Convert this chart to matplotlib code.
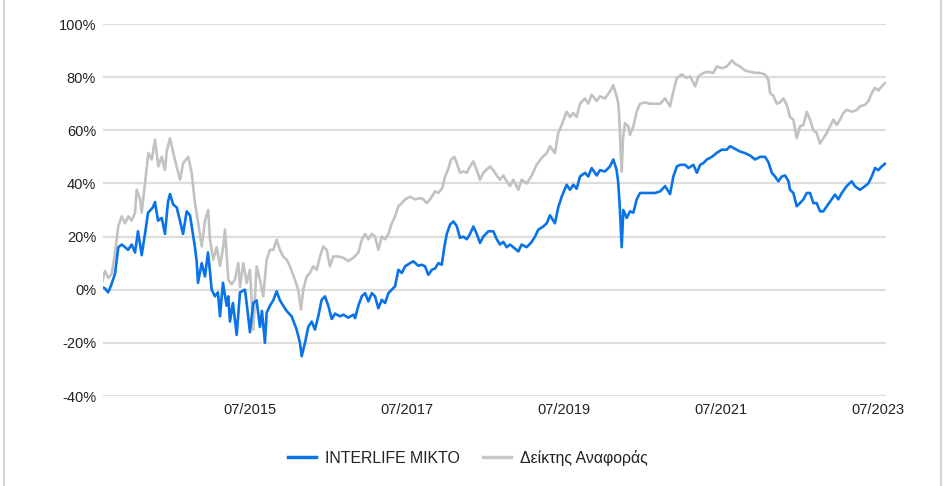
import matplotlib
matplotlib.use("Agg")
import matplotlib.pyplot as plt
from matplotlib.lines import Line2D
import pandas as pd

plt.rcParams['font.family'] = ['Liberation Sans', 'DejaVu Sans']

# ---- data (decimal years, cumulative return in %) ----
fund_name = "INTERLIFE MIKTO"
bench_name = "Δείκτης Αναφοράς"

fund_t = [2013.611, 2013.653, 2013.691, 2013.729, 2013.780, 2013.822, 2013.866, 2013.908, 2013.946, 2013.993,
          2014.035, 2014.073, 2014.120, 2014.162, 2014.201, 2014.264, 2014.290, 2014.328, 2014.375, 2014.417,
          2014.455, 2014.481, 2014.523, 2014.566, 2014.608, 2014.647, 2014.694, 2014.736, 2014.799, 2014.821,
          2014.838, 2014.885, 2014.927, 2014.965, 2014.990, 2015.012, 2015.054, 2015.092, 2015.118, 2015.156,
          2015.203, 2015.224, 2015.245, 2015.283, 2015.331, 2015.373, 2015.436, 2015.462, 2015.500, 2015.542,
          2015.585, 2015.627, 2015.653, 2015.691, 2015.713, 2015.755, 2015.797, 2015.840, 2015.882, 2015.924,
          2015.968, 2016.031, 2016.095, 2016.137, 2016.159, 2016.201, 2016.243, 2016.286, 2016.328, 2016.370,
          2016.413, 2016.455, 2016.497, 2016.541, 2016.583, 2016.647, 2016.689, 2016.752, 2016.816, 2016.838,
          2016.880, 2016.923, 2016.965, 2017.007, 2017.050, 2017.092, 2017.134, 2017.178, 2017.220, 2017.262,
          2017.305, 2017.347, 2017.389, 2017.433, 2017.475, 2017.538, 2017.580, 2017.644, 2017.687, 2017.729,
          2017.771, 2017.815, 2017.857, 2017.899, 2017.942, 2017.975, 2018.006, 2018.048, 2018.090, 2018.133,
          2018.175, 2018.217, 2018.261, 2018.303, 2018.345, 2018.388, 2018.430, 2018.472, 2018.536, 2018.599,
          2018.643, 2018.685, 2018.727, 2018.770, 2018.812, 2018.854, 2018.918, 2018.961, 2019.025, 2019.089,
          2019.131, 2019.173, 2019.236, 2019.280, 2019.322, 2019.385, 2019.427, 2019.471, 2019.534, 2019.577,
          2019.619, 2019.662, 2019.704, 2019.768, 2019.810, 2019.853, 2019.917, 2019.959, 2020.022, 2020.086,
          2020.128, 2020.171, 2020.192, 2020.213, 2020.235, 2020.256, 2020.299, 2020.341, 2020.383, 2020.426,
          2020.468, 2020.532, 2020.596, 2020.659, 2020.723, 2020.787, 2020.850, 2020.892, 2020.936, 2020.978,
          2021.042, 2021.084, 2021.147, 2021.191, 2021.233, 2021.275, 2021.318, 2021.382, 2021.445, 2021.509,
          2021.573, 2021.615, 2021.678, 2021.742, 2021.806, 2021.870, 2021.933, 2021.997, 2022.061, 2022.103,
          2022.146, 2022.188, 2022.230, 2022.273, 2022.315, 2022.357, 2022.379, 2022.421, 2022.464, 2022.506,
          2022.549, 2022.592, 2022.634, 2022.676, 2022.719, 2022.761, 2022.803, 2022.847, 2022.910, 2022.952,
          2022.994, 2023.038, 2023.101, 2023.165, 2023.207, 2023.271, 2023.335, 2023.377, 2023.420, 2023.462,
          2023.504, 2023.547, 2023.589]
fund_v = [1.0, 0.5, -1.0, 1.5, 6, 16, 17, 16, 15, 17,
          14, 22, 13, 21, 29, 31, 33, 26, 27, 21,
          33, 36, 32, 31, 26, 21, 29.5, 28, 16, 10.6,
          2.6, 10, 5, 14, 7, 0, -2.5, -1, -10, 2.6,
          -6, -2.5, -12, -5, -17, -1, 0, -6, -16, -5,
          -4, -14, -8, -20, -8.7, -6, -4, -0.6, -4, -6,
          -8, -10, -15, -20, -25, -20, -14, -12, -15, -10,
          -3.8, -2.5, -6, -11, -9, -10, -9.4, -10.5, -9.4, -10.7,
          -6, -2.5, -1.3, -4.4, -1.3, -2.5, -7, -3.8, -5, -1.3,
          0, 1.3, 7.5, 6.3, 8.8, 10, 10.7, 9, 9.4, 8.8,
          5.6, 7.5, 8, 10, 9.4, 16, 21, 24.5, 25.7, 24,
          19.5, 20, 19, 21, 23.8, 21, 17.6, 20, 22, 22,
          19, 17, 18, 16, 17, 16, 14.4, 17, 16, 18,
          20, 22.6, 23.8, 25, 28, 25, 31, 35, 39.5, 37.6,
          39.5, 38, 42.6, 44, 42.6, 45.8, 43, 45, 44.5, 46.4,
          49, 45, 40, 30, 16, 30, 27, 29.5, 29, 34,
          36.4, 36.4, 36.4, 36.4, 37, 39, 36, 42.6, 46.4, 47,
          47, 45.8, 47, 44, 47, 47.7, 49, 50, 51.5, 52.7,
          52.7, 54, 53, 52, 51.4, 50.5, 49, 50, 50, 48,
          44, 42.6, 40.8, 42.6, 43, 41, 37.6, 36.4, 31.4, 32.6,
          34, 36.4, 36.4, 32.6, 32.6, 29.5, 29.5, 31.4, 34, 35.8,
          34, 36.4, 39, 40.8, 38.9, 37.6, 39, 40, 42.6, 45.8,
          45, 46.4, 47.4]

bench_t = [2013.611, 2013.653, 2013.695, 2013.738, 2013.780, 2013.822, 2013.866, 2013.908, 2013.950, 2013.993,
           2014.035, 2014.057, 2014.099, 2014.120, 2014.162, 2014.205, 2014.248, 2014.290, 2014.332, 2014.375,
           2014.417, 2014.439, 2014.481, 2014.523, 2014.566, 2014.608, 2014.650, 2014.714, 2014.757, 2014.799,
           2014.841, 2014.885, 2014.927, 2014.969, 2014.990, 2015.032, 2015.076, 2015.118, 2015.160, 2015.182,
           2015.224, 2015.267, 2015.309, 2015.351, 2015.373, 2015.415, 2015.458, 2015.500, 2015.542, 2015.585,
           2015.627, 2015.669, 2015.713, 2015.755, 2015.797, 2015.840, 2015.882, 2015.924, 2015.968, 2016.010,
           2016.073, 2016.115, 2016.150, 2016.179, 2016.222, 2016.264, 2016.306, 2016.350, 2016.392, 2016.434,
           2016.477, 2016.519, 2016.561, 2016.625, 2016.689, 2016.752, 2016.816, 2016.880, 2016.923, 2016.965,
           2017.007, 2017.050, 2017.092, 2017.134, 2017.178, 2017.220, 2017.262, 2017.305, 2017.347, 2017.389,
           2017.433, 2017.475, 2017.538, 2017.602, 2017.666, 2017.708, 2017.751, 2017.793, 2017.857, 2017.899,
           2017.950, 2017.984, 2018.019, 2018.061, 2018.103, 2018.133, 2018.175, 2018.217, 2018.261, 2018.303,
           2018.345, 2018.388, 2018.430, 2018.472, 2018.536, 2018.557, 2018.599, 2018.643, 2018.685, 2018.727,
           2018.770, 2018.812, 2018.854, 2018.918, 2018.961, 2019.025, 2019.089, 2019.152, 2019.216, 2019.280,
           2019.322, 2019.385, 2019.427, 2019.471, 2019.534, 2019.577, 2019.619, 2019.662, 2019.704, 2019.768,
           2019.810, 2019.853, 2019.917, 2019.959, 2020.022, 2020.086, 2020.128, 2020.171, 2020.192, 2020.201,
           2020.213, 2020.222, 2020.235, 2020.252, 2020.277, 2020.319, 2020.341, 2020.383, 2020.426, 2020.468,
           2020.532, 2020.596, 2020.659, 2020.723, 2020.787, 2020.850, 2020.892, 2020.936, 2020.999, 2021.063,
           2021.105, 2021.169, 2021.211, 2021.275, 2021.338, 2021.402, 2021.445, 2021.509, 2021.573, 2021.636,
           2021.678, 2021.742, 2021.806, 2021.870, 2021.933, 2021.997, 2022.061, 2022.103, 2022.124, 2022.166,
           2022.210, 2022.252, 2022.294, 2022.337, 2022.379, 2022.421, 2022.464, 2022.506, 2022.549, 2022.592,
           2022.634, 2022.676, 2022.719, 2022.761, 2022.803, 2022.847, 2022.889, 2022.931, 2022.974, 2023.016,
           2023.058, 2023.101, 2023.165, 2023.229, 2023.271, 2023.335, 2023.377, 2023.420, 2023.462, 2023.504,
           2023.547, 2023.589]
bench_v = [2.5, 7, 4.4, 6, 13.8, 24, 27.6, 25, 27.6, 26,
           29, 37.6, 34, 29, 40, 51.4, 49, 56.5, 46.4, 50,
           45, 52, 57, 51.4, 46.4, 41.4, 47.7, 50, 44, 32.6,
           25, 16.3, 26, 30, 19, 11.3, 16, 9, 16.3, 22.6,
           3.8, 2, 3.8, 10, 1, 10, 2.5, 7.5, -15, 8.8,
           3.8, -2.5, 11.3, 15, 15, 18.8, 15, 12.5, 11.3, 8.8,
           3.8, 0, -7.5, 0, 5, 6.3, 8.8, 7.5, 12.5, 16.3,
           15, 8.8, 12.5, 12.5, 12, 10.8, 12, 14, 18.8, 21,
           19, 21, 20, 15, 20, 19, 21, 25, 27.6, 31.4,
           32.6, 34, 35, 34, 34.5, 34, 32.6, 34, 37, 36.4,
           38.3, 42.6, 45, 49, 50, 47.7, 44, 44.5, 44, 46.4,
           48.3, 45, 41.4, 44, 45.8, 46.4, 45, 43, 41.4, 43,
           40.8, 39, 41.4, 37.6, 41.4, 40, 43, 47, 49.6, 51.4,
           54, 51.4, 59, 62, 67, 65, 66.5, 65, 70, 72,
           70, 73.4, 71, 72.8, 72, 74.6, 77, 72.8, 70, 66.5,
           59, 51.4, 44.5, 57, 62.7, 61.5, 58.3, 61.5, 67, 70,
           70.5, 70, 70, 70, 72, 69, 74.6, 79.7, 81, 79.7,
           80.3, 76.5, 80.3, 81.6, 82, 81.6, 84, 83.4, 84, 86.3,
           85, 84, 82.5, 82, 81.6, 81.6, 81, 79, 74, 73,
           70, 70.5, 72, 69.6, 65, 64, 57, 61.5, 62, 67,
           64, 60, 59, 55, 57, 59, 61.5, 64, 62, 64,
           66.5, 67.7, 67, 67.7, 69, 69.6, 71, 74, 76, 75,
           76.5, 77.7]

y_ticks = [-40, -20, 0, 20, 40, 60, 80, 100]
x_tick_labels = ["07/2015", "07/2017", "07/2019", "07/2021", "07/2023"]
x_range = (2013.627, 2023.602)


def to_dates(ts):
    out = []
    for t in ts:
        y = int(t)
        start = pd.Timestamp(year=y, month=1, day=1)
        end = pd.Timestamp(year=y + 1, month=1, day=1)
        out.append(start + (end - start) * (t - y))
    return out


fig = plt.figure(figsize=(9.44, 4.86), dpi=100)
ax = fig.add_axes([103 / 944, 1 - 396 / 486, (886 - 103) / 944, (396 - 24) / 486])

ax.plot(to_dates(bench_t), bench_v, color="#c2c2c2", lw=1.9, zorder=2, solid_joinstyle="round")
ax.plot(to_dates(fund_t), fund_v, color="#0a73e8", lw=1.9, zorder=3, solid_joinstyle="round")

ax.set_ylim(-40, 100)
ax.set_yticks(y_ticks)
ax.set_yticklabels([f"{v}%" for v in y_ticks])
xl = to_dates(list(x_range))
ax.set_xlim(xl[0], xl[1])
tick_dates = [pd.Timestamp(year=int(s[3:]), month=int(s[:2]), day=1) for s in x_tick_labels]
ax.set_xticks(tick_dates)
ax.set_xticklabels(x_tick_labels)

ax.grid(axis="y", color="#dddddd", lw=1.6, zorder=0)
ax.set_axisbelow(True)
for s in ax.spines.values():
    s.set_visible(False)
ax.tick_params(axis="both", length=0, labelsize=10.5, labelcolor="#222222")
ax.tick_params(axis="y", pad=5)
ax.tick_params(axis="x", pad=5)

handles = [Line2D([], [], color="#0a73e8", lw=2.5), Line2D([], [], color="#c8c8c8", lw=2.5)]
fig.legend(handles, [fund_name, bench_name], loc="center", bbox_to_anchor=(468 / 944, 1 - 458 / 486),
           ncol=2, frameon=False, fontsize=11.4, handlelength=1.75, handletextpad=0.55, columnspacing=1.5,
           labelcolor="#222222")

for xf in (4 / 944, 941 / 944):
    fig.add_artist(Line2D([xf, xf], [0, 1], transform=fig.transFigure, color="#d6d6d6", lw=1.6))

fig.savefig("out.png", dpi=100)
